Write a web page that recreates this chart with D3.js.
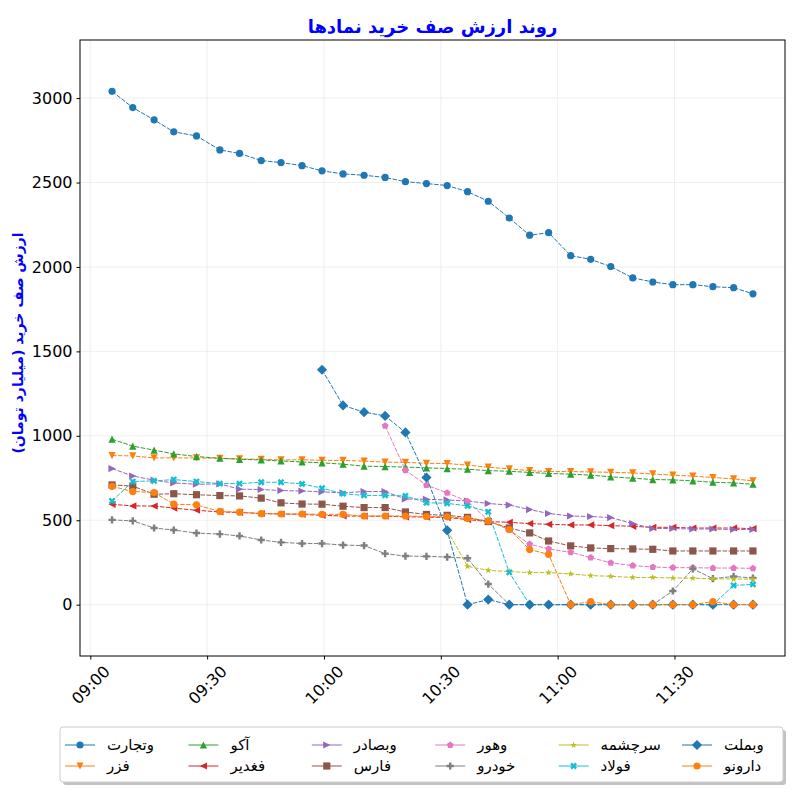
<!DOCTYPE html>
<html>
<head>
<meta charset="utf-8">
<script src="https://cdn.jsdelivr.net/npm/d3@7"></script>
<style>
  body { margin: 0; background: #fff; }
  text { font-family: "DejaVu Sans", sans-serif; }
</style>
</head>
<body>
<svg id="chart" width="800" height="800"></svg>
<script>

// sample times (same for every symbol)
var times = ["09:05:35","09:10:54","09:16:23","09:21:26","09:27:16","09:33:16","09:38:19","09:43:53",
             "09:48:58","09:54:22","09:59:30","10:04:54","10:10:18","10:15:42","10:20:55","10:26:19",
             "10:31:38","10:36:52","10:42:11","10:47:35","10:52:49","10:57:41","11:03:21","11:08:29",
             "11:13:38","11:19:17","11:24:26","11:29:35","11:34:43","11:39:52","11:45:11","11:50:09"];

var names = ["وتجارت","فزر","آکو","فغدیر","وبصادر","فارس","وهور","خودرو","سرچشمه","فولاد","وبملت","دارونو"];

var yTicks = [0, 500, 1000, 1500, 2000, 2500, 3000];

var vtejarat = [3040,2944,2871,2800,2776,2693,2672,2630,2618,2600,2569,2551,2543,2530,2505,2494,
                2482,2446,2389,2290,2188,2203,2067,2045,2002,1935,1911,1895,1895,1883,1877,1841];
var fazar    = [883,881,869,869,869,867,863,861,857,858,855,854,850,844,843,837,
                836,826,814,804,794,788,788,786,784,780,774,767,761,753,745,733];
var akoo     = [980,939,915,893,877,867,861,857,851,845,840,832,820,818,815,810,
                806,802,794,790,783,777,773,767,757,749,741,739,733,725,721,713];
var fghadir  = [594,585,584,572,559,549,546,540,537,535,529,525,524,524,520,519,
                516,504,492,488,480,476,472,472,468,464,458,458,454,454,454,450];
var vbsader  = [806,762,737,721,713,715,684,682,676,673,668,662,670,670,626,624,
                620,614,599,590,563,540,525,522,516,480,451,451,448,448,445,445];
var fars     = [709,702,654,657,651,646,644,631,603,596,595,583,575,575,549,534,
                529,517,492,454,425,377,348,336,332,330,328,318,318,318,318,318];
var vhoor    = [null,null,null,null,null,null,null,null,null,null,null,null,null,1059,796,708,
                662,612,500,443,358,330,310,279,248,231,223,219,219,217,217,215];
var khodro   = [502,496,454,442,424,418,407,383,369,362,362,353,350,302,288,286,
                282,275,122,0,0,0,0,0,0,0,0,81,212,154,167,158];
var sarcheshme = [null,null,null,null,null,null,null,null,null,null,null,null,null,null,null,null,
                440,227,203,196,190,190,182,172,168,161,161,158,157,153,152,151];
var foolad   = [614,729,733,741,729,717,717,725,725,715,690,657,647,647,644,604,
                600,585,550,191,0,0,0,0,0,0,0,0,0,0,114,120];
var vbmellat = [null,null,null,null,null,null,null,null,null,null,1391,1180,1140,1118,1020,753,
                440,0,30,0,0,0,0,0,0,0,0,0,0,0,0,0];
var daroono  = [701,670,664,595,591,552,548,539,537,537,535,535,525,525,525,522,
                520,510,496,445,326,298,0,18,0,0,0,0,0,18,0,0];

var series = [vtejarat, fazar, akoo, fghadir, vbsader, fars, vhoor, khodro, sarcheshme, foolad, vbmellat, daroono];

// styles
var colors  = ["#1f77b4","#ff7f0e","#2ca02c","#d62728","#9467bd","#8c564b",
               "#e377c2","#7f7f7f","#bcbd22","#17becf","#1f77b4","#ff7f0e"];
var markers = ["o","v","^","<",">","s","p","P","*","X","D","o"];

var svg = d3.select("#chart");
var margin = {left: 80, top: 40, right: 15, bottom: 144};
var W = 800 - margin.left - margin.right,
    H = 800 - margin.top - margin.bottom;

var parseT = d3.timeParse("%H:%M:%S");
var tData = times.map(parseT);

// matplotlib style 5% padding on x
var tExt = d3.extent(tData);
var pad = (tExt[1] - tExt[0]) * 0.05;
var x = d3.scaleTime()
    .domain([new Date(+tExt[0] - pad), new Date(+tExt[1] + pad)])
    .range([0, W]);

var yMax = d3.max(series, function(s){ return d3.max(s); });
var y = d3.scaleLinear()
    .domain([-yMax * 0.1, yMax * 1.1])
    .range([H, 0]);

var g = svg.append("g").attr("transform", "translate(" + margin.left + "," + margin.top + ")");

// grid
var xTickVals = x.ticks(d3.timeMinute.every(30));
g.append("g").selectAll("line.gx").data(xTickVals).enter().append("line")
    .attr("x1", function(d){ return x(d); }).attr("x2", function(d){ return x(d); })
    .attr("y1", 0).attr("y2", H)
    .attr("stroke", "#ebebeb").attr("stroke-width", 0.8);
g.append("g").selectAll("line.gy").data(yTicks).enter().append("line")
    .attr("x1", 0).attr("x2", W)
    .attr("y1", function(d){ return y(d); }).attr("y2", function(d){ return y(d); })
    .attr("stroke", "#ebebeb").attr("stroke-width", 0.8);

// marker shapes, sized like matplotlib markersize (px)
function markerPath(m, s) {
  var h = s / 2, pts, i, a;
  function poly(p) { return "M" + p.map(function(q){ return q[0].toFixed(2) + "," + q[1].toFixed(2); }).join("L") + "Z"; }
  switch (m) {
    case "o": return d3.symbol(d3.symbolCircle, Math.PI * h * h)();
    case "^": return poly([[0,-h],[h,h],[-h,h]]);
    case "v": return poly([[0,h],[h,-h],[-h,-h]]);
    case "<": return poly([[-h,0],[h,-h],[h,h]]);
    case ">": return poly([[h,0],[-h,-h],[-h,h]]);
    case "s": return poly([[-h,-h],[h,-h],[h,h],[-h,h]]);
    case "D": a = h * Math.SQRT2; return poly([[0,-a],[a,0],[0,a],[-a,0]]);
    case "p":
      pts = [];
      for (i = 0; i < 5; i++) { a = -Math.PI/2 + i * 2 * Math.PI / 5; pts.push([h*Math.cos(a), h*Math.sin(a)]); }
      return poly(pts);
    case "*":
      pts = [];
      for (i = 0; i < 10; i++) {
        a = -Math.PI/2 + i * Math.PI / 5;
        var r = (i % 2) ? h * 0.381966 : h;
        pts.push([r*Math.cos(a), r*Math.sin(a)]);
      }
      return poly(pts);
    case "P":
    case "X":
      var k = s / 6;
      pts = [[-k,-3*k],[k,-3*k],[k,-k],[3*k,-k],[3*k,k],[k,k],[k,3*k],[-k,3*k],[-k,k],[-3*k,k],[-3*k,-k],[-k,-k]];
      if (m === "X") {
        var c = Math.SQRT1_2;
        pts = pts.map(function(q){ return [(q[0]-q[1])*c, (q[0]+q[1])*c]; });
      }
      return poly(pts);
  }
}

var mSize = 7.2;

var line = d3.line()
    .defined(function(d){ return d.v !== null; })
    .x(function(d){ return x(d.t); })
    .y(function(d){ return y(d.v); });

series.forEach(function(vals, i) {
  var pts = vals.map(function(v, j){ return {t: tData[j], v: v}; });
  var sg = g.append("g");
  sg.append("path")
    .datum(pts)
    .attr("d", line)
    .attr("fill", "none")
    .attr("stroke", colors[i])
    .attr("stroke-width", 1)
    .attr("stroke-dasharray", "4.5,1.5");
  sg.selectAll("path.m").data(pts.filter(function(d){ return d.v !== null; })).enter()
    .append("path")
    .attr("class", "m")
    .attr("d", markerPath(markers[i], mSize))
    .attr("transform", function(d){ return "translate(" + x(d.t) + "," + y(d.v) + ")"; })
    .attr("fill", colors[i]);
});

// axes
var xAxis = g.append("g").attr("transform", "translate(0," + H + ")")
    .call(d3.axisBottom(x).tickValues(xTickVals).tickFormat(d3.timeFormat("%H:%M"))
          .tickSizeInner(3.5).tickSizeOuter(0).tickPadding(3.5));
xAxis.select(".domain").remove();
xAxis.selectAll("text")
    .attr("font-size", 16).attr("fill", "#000")
    .attr("text-anchor", "middle")
    .attr("dy", null)
    .attr("y", null)
    .attr("dominant-baseline", "central")
    .attr("transform", "translate(0,29) rotate(-45)");
xAxis.selectAll("line").attr("stroke", "#000");

var yAxis = g.append("g")
    .call(d3.axisLeft(y).tickValues(yTicks).tickFormat(d3.format("d"))
          .tickSizeInner(3.5).tickSizeOuter(0).tickPadding(4));
yAxis.select(".domain").remove();
yAxis.selectAll("text").attr("font-size", 16).attr("fill", "#000");
yAxis.selectAll("line").attr("stroke", "#000");

// frame
g.append("rect").attr("x", 0).attr("y", 0).attr("width", W).attr("height", H)
    .attr("fill", "none").attr("stroke", "#000").attr("stroke-width", 1);

// title and y label
svg.append("text")
    .attr("x", margin.left + W / 2).attr("y", 33)
    .attr("text-anchor", "middle").attr("direction", "rtl")
    .attr("font-size", 18).attr("font-weight", "bold").attr("fill", "#0000ff")
    .text("روند ارزش صف خرید نمادها");

svg.append("text")
    .attr("transform", "translate(23," + (margin.top + H / 2 - 5) + ") rotate(-90)")
    .attr("text-anchor", "middle").attr("direction", "rtl")
    .attr("font-size", 14).attr("font-weight", "bold").attr("fill", "#0000ff")
    .text("ارزش صف خرید (میلیارد تومان)");

// legend
var lg = svg.append("g");
var lx = 60, ly = 727, lw = 723, lh = 55, colW = 123.4;
lg.append("rect").attr("x", lx + 3).attr("y", ly + 3).attr("width", lw).attr("height", lh)
    .attr("rx", 3).attr("fill", "#888").attr("opacity", 0.5);
lg.append("rect").attr("x", lx).attr("y", ly).attr("width", lw).attr("height", lh)
    .attr("rx", 3).attr("fill", "#fff").attr("stroke", "#ccc");

names.forEach(function(n, i) {
  var col = Math.floor(i / 2), row = i % 2;
  var cx = 65 + col * colW, cy = 745 + row * 21;
  lg.append("line").attr("x1", cx).attr("x2", cx + 30).attr("y1", cy).attr("y2", cy)
    .attr("stroke", colors[i]).attr("stroke-width", 1);
  lg.append("path").attr("d", markerPath(markers[i], mSize))
    .attr("transform", "translate(" + (cx + 15) + "," + cy + ")").attr("fill", colors[i]);
  lg.append("text").attr("x", cx + 42).attr("y", cy).attr("dy", "0.35em")
    .attr("font-size", 15).attr("fill", "#000").text(n);
});

</script>
</body>
</html>
